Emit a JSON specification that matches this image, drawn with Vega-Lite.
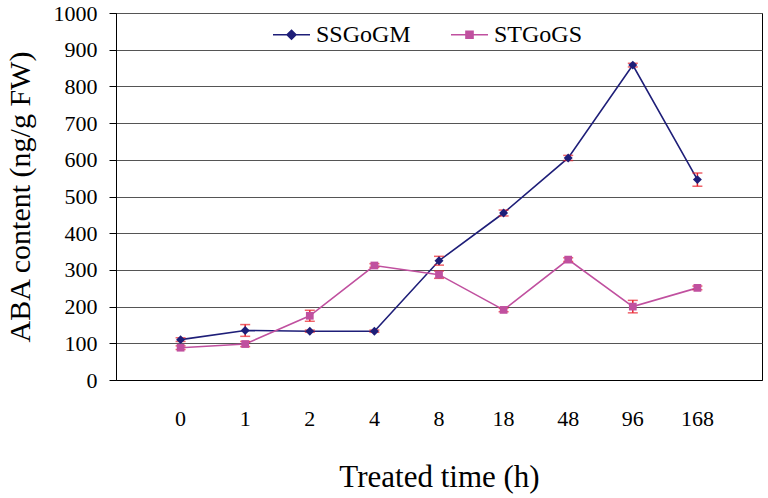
{
  "$schema": "https://vega.github.io/schema/vega-lite/v6.json",
  "width": 646,
  "height": 367,
  "autosize": {"type": "none"},
  "padding": {"left": 116, "top": 13, "right": 6, "bottom": 118},
  "background": "white",
  "config": {
    "font": "Liberation Serif",
    "view": {"stroke": "#000000", "strokeWidth": 1},
    "axis": {
      "titleFont": "Liberation Serif",
      "titleFontSize": 31,
      "titleFontWeight": "normal",
      "titleColor": "#000000",
      "labelFont": "Liberation Serif",
      "labelFontSize": 22,
      "labelColor": "#000000",
      "domainColor": "#000000",
      "tickColor": "#000000"
    }
  },
  "data": {
    "values": [
      {"time": "0", "series": "SSGoGM", "value": 110, "err": 5},
      {"time": "1", "series": "SSGoGM", "value": 135, "err": 16},
      {"time": "2", "series": "SSGoGM", "value": 133, "err": 3},
      {"time": "4", "series": "SSGoGM", "value": 133, "err": 3},
      {"time": "8", "series": "SSGoGM", "value": 325, "err": 12},
      {"time": "18", "series": "SSGoGM", "value": 455, "err": 8},
      {"time": "48", "series": "SSGoGM", "value": 605, "err": 7},
      {"time": "96", "series": "SSGoGM", "value": 858, "err": 5},
      {"time": "168", "series": "SSGoGM", "value": 546, "err": 18},
      {"time": "0", "series": "STGoGS", "value": 88, "err": 5},
      {"time": "1", "series": "STGoGS", "value": 98, "err": 7},
      {"time": "2", "series": "STGoGS", "value": 175, "err": 15},
      {"time": "4", "series": "STGoGS", "value": 312, "err": 5},
      {"time": "8", "series": "STGoGS", "value": 287, "err": 10},
      {"time": "18", "series": "STGoGS", "value": 191, "err": 5},
      {"time": "48", "series": "STGoGS", "value": 328, "err": 5},
      {"time": "96", "series": "STGoGS", "value": 200, "err": 17},
      {"time": "168", "series": "STGoGS", "value": 251, "err": 5}
    ]
  },
  "encoding": {
    "x": {
      "field": "time",
      "type": "ordinal",
      "sort": ["0", "1", "2", "4", "8", "18", "48", "96", "168"],
      "scale": {"paddingInner": 0, "paddingOuter": 0.5},
      "axis": {
        "title": "Treated time (h)",
        "titlePadding": 33,
        "labelAngle": 0,
        "labelPadding": 28,
        "ticks": false,
        "grid": false
      }
    },
    "y": {
      "field": "value",
      "type": "quantitative",
      "title": "ABA content (ng/g FW)",
      "scale": {"domain": [0, 1000], "nice": false},
      "axis": {
        "title": "ABA content (ng/g FW)",
        "titleFontSize": 30,
        "titlePadding": 18,
        "labelPadding": 12,
        "format": "d",
        "values": [0, 100, 200, 300, 400, 500, 600, 700, 800, 900, 1000],
        "tickSize": 7,
        "grid": true,
        "gridColor": "#555555",
        "gridWidth": 1
      }
    }
  },
  "layer": [
    {
      "mark": {"type": "line", "strokeWidth": 1.6},
      "encoding": {
        "color": {
          "field": "series",
          "type": "nominal",
          "scale": {"domain": ["SSGoGM", "STGoGS"], "range": ["#1E1E78", "#C0509F"]}
        }
      }
    },
    {
      "mark": {"type": "errorbar", "ticks": {"size": 10, "thickness": 1.5}, "color": "#E8202A", "thickness": 1.5},
      "encoding": {
        "yError": {"field": "err"}
      }
    },
    {
      "transform": [{"filter": "datum.series === 'SSGoGM'"}],
      "mark": {"type": "point", "filled": true, "opacity": 1, "shape": "diamond", "color": "#1E1E78", "size": 80},
      "encoding": {}
    },
    {
      "transform": [{"filter": "datum.series === 'STGoGS'"}],
      "mark": {"type": "point", "filled": true, "opacity": 1, "shape": "square", "color": "#C0509F", "size": 60},
      "encoding": {}
    },
    {
      "mark": {"type": "point", "filled": true, "opacity": 0, "size": 10},
      "encoding": {
        "color": {
          "field": "series",
          "type": "nominal",
          "scale": {"domain": ["SSGoGM", "STGoGS"], "range": ["#1E1E78", "#C0509F"]},
          "legend": {
            "title": null,
            "orient": "none",
            "direction": "horizontal",
            "legendX": 156,
            "legendY": 2,
            "labelFont": "Liberation Serif",
            "labelFontSize": 24,
            "labelColor": "#000000",
            "labelOffset": 5,
            "columnPadding": 36,
            "symbolSize": 1369,
            "symbolStrokeWidth": 1.6,
            "symbolOpacity": 1,
            "encode": {
              "symbols": {
                "update": {
                  "fill": {"signal": "datum.value === 'SSGoGM' ? '#1E1E78' : '#C0509F'"},
                  "fillOpacity": {"value": 1}
                }
              }
            }
          }
        },
        "shape": {
          "field": "series",
          "type": "nominal",
          "scale": {
            "domain": ["SSGoGM", "STGoGS"],
            "range": ["M-1,0H1M0,-0.24L0.24,0L0,0.24L-0.24,0Z", "M-1,0H1M-0.19,-0.19H0.19V0.19H-0.19Z"]
          }
        }
      }
    }
  ]
}
